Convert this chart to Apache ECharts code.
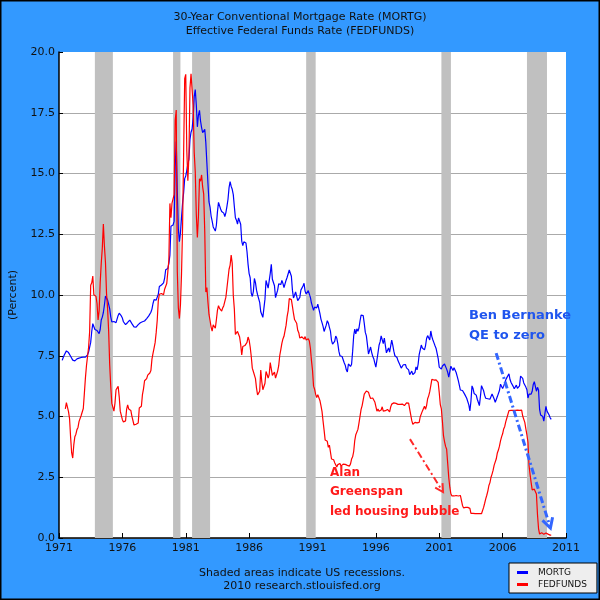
<!DOCTYPE html>
<html>
<head>
<meta charset="utf-8">
<script src="https://cdn.jsdelivr.net/npm/echarts@6/dist/echarts.min.js"></script>
<style>
html,body{margin:0;padding:0;background:#3399ff;}
#chart{width:600px;height:600px;}
</style>
</head>
<body>
<div id="chart"></div>
<script>
// ---- DATA ----
// 30-Year Conventional Mortgage Rate, monthly, starting 1971-04
const mortgStart = [1971, 4];
const mortgValues = [
  7.31,7.43,7.53,7.60,7.70,7.69,7.63,7.55,7.48,
  7.44,7.32,7.29,7.29,7.37,7.37,7.40,7.40,7.42,7.43,7.44,7.44,
  7.44,7.44,7.46,7.54,7.65,7.73,8.05,8.50,8.82,8.77,8.58,8.54,
  8.54,8.46,8.41,8.58,8.97,9.09,9.28,9.59,9.96,9.98,9.79,9.62,
  9.43,9.10,8.89,8.82,8.91,8.89,8.86,8.94,9.16,9.25,9.20,9.14,
  9.05,8.90,8.86,8.78,8.83,8.87,8.93,8.97,8.92,8.82,8.75,8.69,
  8.64,8.68,8.73,8.78,8.86,8.86,8.88,8.90,8.87,8.93,8.97,9.03,
  9.09,9.14,9.21,9.29,9.42,9.65,9.81,9.78,9.79,9.85,10.03,10.35,
  10.39,10.41,10.43,10.50,10.69,11.04,11.09,11.09,11.30,11.64,12.83,12.90,
  12.88,13.04,15.28,16.32,14.26,12.71,12.19,12.56,13.20,13.79,14.21,14.79,
  14.90,15.13,15.40,15.58,16.40,16.70,16.83,17.29,18.16,18.45,17.83,16.92,
  17.40,17.60,17.16,16.89,16.68,16.70,16.82,16.27,15.43,14.61,13.83,13.62,
  13.25,13.04,12.80,12.78,12.63,12.87,13.42,13.81,13.73,13.54,13.44,13.42,
  13.37,13.23,13.39,13.65,13.94,14.42,14.67,14.47,14.35,14.13,13.64,13.18,
  13.08,12.92,13.17,13.20,12.91,12.22,12.03,12.19,12.19,12.14,11.78,11.26,
  10.88,10.71,10.08,9.94,10.14,10.68,10.51,10.20,10.01,9.98,9.70,9.31,
  9.20,9.08,9.04,9.83,10.60,10.54,10.28,10.33,10.89,11.26,10.65,10.64,
  10.38,9.89,9.93,10.20,10.46,10.46,10.43,10.60,10.48,10.30,10.27,10.61,
  10.73,10.65,11.03,11.05,10.77,10.20,9.88,9.99,10.13,9.95,9.77,9.74,
  9.90,10.20,10.27,10.37,10.48,10.16,10.04,10.10,10.18,10.18,9.90,9.67,
  9.64,9.37,9.50,9.49,9.47,9.62,9.58,9.24,9.01,8.86,8.71,8.50,
  8.43,8.76,8.94,8.85,8.67,8.51,8.13,7.98,7.92,8.09,8.31,8.22,
  7.99,7.68,7.50,7.47,7.47,7.42,7.21,7.11,6.92,6.83,7.16,7.17,
  7.06,7.15,7.68,8.32,8.60,8.40,8.61,8.51,8.64,8.93,9.17,9.20,
  9.15,8.83,8.46,8.32,7.96,7.57,7.61,7.86,7.64,7.48,7.38,7.20,
  7.03,7.08,7.62,7.93,8.07,8.32,8.25,8.00,8.23,7.92,7.62,7.60,
  7.82,7.65,7.90,8.14,7.94,7.69,7.50,7.48,7.43,7.29,7.21,7.10,
  6.99,7.04,7.13,7.14,7.14,7.00,6.95,6.92,6.72,6.71,6.87,6.72,
  6.79,6.81,7.04,6.92,7.15,7.55,7.63,7.94,7.82,7.85,7.74,7.91,
  8.21,8.33,8.24,8.15,8.52,8.29,8.15,8.03,7.91,7.80,7.75,7.38,
  7.03,7.05,6.95,7.08,7.15,7.16,7.13,6.95,6.82,6.62,6.66,7.07,
  7.00,6.89,7.01,6.99,6.81,6.65,6.49,6.29,6.09,6.11,6.07,6.05,
  5.92,5.84,5.75,5.81,5.48,5.23,5.63,6.26,6.15,5.95,5.93,5.88,
  5.71,5.64,5.45,5.83,6.27,6.29,6.06,5.87,5.75,5.72,5.73,5.75,
  5.71,5.63,5.93,5.86,5.72,5.58,5.70,5.82,5.77,6.07,6.33,6.27,
  6.15,6.25,6.32,6.51,6.60,6.68,6.76,6.52,6.40,6.36,6.24,6.14,
  6.22,6.29,6.16,6.18,6.26,6.66,6.70,6.57,6.38,6.38,6.21,6.10,
  5.76,5.92,5.97,5.92,6.04,6.32,6.43,6.48,6.04,6.20,6.09,5.29,
  5.06,5.13,5.00,4.81,4.86,5.42,5.22,5.19,5.06,4.95,4.88
];
// Effective Federal Funds Rate, monthly, starting 1971-07
const fedStart = [1971, 7];
const fedValues = [
  5.31,5.57,5.55,5.20,4.91,4.14,
  3.50,3.29,3.83,4.17,4.27,4.46,4.55,4.80,4.87,5.04,5.06,5.33,
  5.94,6.58,7.09,7.12,7.84,8.49,10.40,10.50,10.78,10.01,10.03,9.95,
  9.65,8.97,9.35,10.51,11.31,11.93,12.92,12.01,11.34,10.06,9.45,8.53,
  7.13,6.24,5.54,5.49,5.22,5.55,6.10,6.14,6.24,5.82,5.22,5.20,
  4.87,4.77,4.84,4.82,5.29,5.48,5.31,5.29,5.25,5.02,4.95,4.65,
  4.61,4.68,4.69,4.73,5.35,5.39,5.42,5.90,6.14,6.47,6.51,6.56,
  6.70,6.78,6.79,6.89,7.36,7.60,7.81,8.04,8.45,8.96,9.76,10.03,
  10.07,10.06,10.09,10.01,10.24,10.29,10.47,10.94,11.43,13.77,13.18,13.78,
  13.82,14.13,17.19,17.61,10.98,9.47,9.03,9.61,10.87,12.81,15.85,18.90,
  19.08,15.93,14.70,15.72,18.52,19.10,19.04,17.82,15.87,15.08,13.31,12.37,
  13.22,14.78,14.68,14.94,14.45,14.15,12.59,10.12,10.31,9.71,9.20,8.95,
  8.68,8.51,8.77,8.80,8.63,8.98,9.37,9.56,9.45,9.48,9.34,9.47,
  9.56,9.59,9.91,10.29,10.32,11.06,11.23,11.64,11.30,9.99,9.43,8.38,
  8.35,8.50,8.58,8.27,7.97,7.53,7.88,7.90,7.92,7.99,8.05,8.27,
  8.14,7.86,7.48,6.99,6.85,6.92,6.56,6.17,5.89,5.85,6.04,6.91,
  6.43,6.10,6.13,6.37,6.85,6.73,6.58,6.73,7.22,7.29,6.69,6.77,
  6.83,6.58,6.58,6.87,7.09,7.51,7.75,8.01,8.19,8.30,8.35,8.76,
  9.12,9.36,9.85,9.84,9.81,9.53,9.24,8.99,9.02,8.84,8.55,8.45,
  8.23,8.24,8.28,8.26,8.18,8.29,8.15,8.13,8.20,8.11,7.81,7.31,
  6.91,6.25,6.12,5.91,5.78,5.90,5.82,5.66,5.45,5.21,4.81,4.43,
  4.03,4.06,3.98,3.73,3.82,3.76,3.25,3.30,3.22,3.10,3.09,2.92,
  3.02,3.03,3.07,2.96,3.00,3.04,3.06,3.03,3.09,2.99,3.02,2.96,
  3.05,3.25,3.34,3.56,4.01,4.25,4.26,4.47,4.73,4.76,5.29,5.45,
  5.53,5.92,5.98,6.05,6.01,6.00,5.85,5.74,5.80,5.76,5.80,5.60,
  5.56,5.22,5.31,5.22,5.24,5.27,5.40,5.22,5.30,5.24,5.31,5.29,
  5.25,5.19,5.39,5.51,5.50,5.56,5.52,5.54,5.54,5.50,5.52,5.50,
  5.56,5.51,5.49,5.45,5.49,5.56,5.54,5.55,5.51,5.07,4.83,4.68,
  4.63,4.76,4.81,4.74,4.74,4.76,4.99,5.07,5.22,5.20,5.42,5.30,
  5.45,5.73,5.85,6.02,6.27,6.53,6.54,6.50,6.52,6.51,6.51,6.40,
  5.98,5.49,5.31,4.80,4.21,3.97,3.77,3.65,3.07,2.49,2.09,1.82,
  1.73,1.74,1.73,1.75,1.75,1.75,1.73,1.74,1.75,1.75,1.34,1.24,
  1.24,1.26,1.25,1.26,1.26,1.22,1.01,1.03,1.01,1.01,1.00,0.98,
  1.00,1.01,1.00,1.00,1.00,1.03,1.26,1.43,1.61,1.76,1.93,2.16,
  2.28,2.50,2.63,2.79,3.00,3.04,3.26,3.50,3.62,3.78,4.00,4.16,
  4.29,4.49,4.59,4.79,4.94,4.99,5.24,5.25,5.25,5.25,5.25,5.24,
  5.25,5.26,5.26,5.25,5.25,5.25,5.26,5.02,4.94,4.76,4.49,4.24,
  3.94,2.98,2.61,2.28,1.98,2.00,2.01,2.00,1.81,0.97,0.39,0.16,
  0.15,0.22,0.18,0.15,0.18,0.21,0.16,0.16,0.15,0.12,0.12
];
// US recessions (decimal years: start, end)
const recessionStarts = [1973.83, 1980.0, 1981.5, 1990.5, 2001.17, 2007.92];
const recessionEnds   = [1975.25, 1980.58, 1982.92, 1991.25, 2001.92, 2009.5];
// Axis ticks
const xTicks = [1971, 1976, 1981, 1986, 1991, 1996, 2001, 2006, 2011];
const yTicks = [0, 2.5, 5, 7.5, 10, 12.5, 15, 17.5, 20];
const seriesNames = ['MORTG', 'FEDFUNDS'];
const titleLines = ['30-Year Conventional Mortgage Rate (MORTG)', 'Effective Federal Funds Rate (FEDFUNDS)'];
const footerLines = ['Shaded areas indicate US recessions.', '2010 research.stlouisfed.org'];
// Annotations: text lines and arrows in data coordinates [year, percent]
const greenspanText = ['Alan', 'Greenspan', 'led housing bubble'];
const bernankeText = ['Ben Bernanke', 'QE to zero'];
const greenspanArrow = [[1998.69, 4.07], [2001.30, 1.89]];
const bernankeArrow = [[2005.49, 7.61], [2009.77, 0.41]];

// ---- BUILD ----
function toPairs(start, vals) {
  return vals.map((v, i) => [start[0] + (start[1] - 1 + i) / 12, v]);
}
const FONT = 'DejaVu Sans';
const chart = echarts.init(document.getElementById('chart'), null, {renderer: 'canvas'});

const recessionAreas = recessionStarts.map((s, i) => [{xAxis: s}, {xAxis: recessionEnds[i]}]);

const option = {
  backgroundColor: '#3399ff',
  animation: false,
  title: {
    text: titleLines.join('\n'),
    left: 'center',
    top: 5,
    textStyle: {fontFamily: FONT, fontSize: 11, fontWeight: 'normal', color: '#111', lineHeight: 14}
  },
  grid: {left: 59, right: 34, top: 52, bottom: 62, show: true, backgroundColor: '#ffffff', borderWidth: 0,
         containLabel: false, outerBoundsMode: 'none'},
  xAxis: {
    type: 'value', min: xTicks[0], max: xTicks[xTicks.length - 1], interval: 5,
    axisLine: {show: true, lineStyle: {color: '#000', width: 1.5}},
    axisTick: {show: true, inside: true, length: 5, lineStyle: {color: '#000'}},
    axisLabel: {fontFamily: FONT, fontSize: 11, color: '#111', margin: 5, formatter: v => String(v)},
    splitLine: {show: false}
  },
  yAxis: {
    type: 'value', min: yTicks[0], max: yTicks[yTicks.length - 1], interval: 2.5,
    name: '(Percent)', nameLocation: 'middle', nameGap: 40, nameRotate: 90,
    nameTextStyle: {fontFamily: FONT, fontSize: 11, color: '#111'},
    axisLine: {show: true, lineStyle: {color: '#000', width: 1.5}},
    axisTick: {show: true, inside: true, length: 4, lineStyle: {color: '#000'}},
    axisLabel: {fontFamily: FONT, fontSize: 11, color: '#111', margin: 4, formatter: v => v.toFixed(1)},
    splitLine: {show: true, showMaxLine: false, lineStyle: {color: '#aaaaaa', width: 1}}
  },
  legend: {
    orient: 'vertical', left: 509, top: 563,
    padding: [5, 10, 4, 8], itemGap: 3,
    backgroundColor: '#eeeeee', borderColor: '#000', borderWidth: 1,
    icon: 'rect', itemWidth: 11, itemHeight: 3,
    textStyle: {fontFamily: FONT, fontSize: 9, color: '#111', padding: [0, 0, 0, 5]},
    data: seriesNames
  },
  series: [
    {
      name: 'recessions', type: 'line', data: [], z: 1, silent: true,
      markArea: {silent: true, itemStyle: {color: '#c0c0c0', opacity: 1}, data: recessionAreas}
    },
    {
      name: seriesNames[0], type: 'line', z: 3, showSymbol: false, symbol: 'none',
      lineStyle: {color: '#0000ff', width: 1.2}, itemStyle: {color: '#0000ff'},
      data: toPairs(mortgStart, mortgValues)
    },
    {
      name: seriesNames[1], type: 'line', z: 4, showSymbol: false, symbol: 'none',
      lineStyle: {color: '#ff0000', width: 1.2}, itemStyle: {color: '#ff0000'},
      data: toPairs(fedStart, fedValues)
    }
  ]
};
chart.setOption(option);

function arrowGraphics(id, pts, color, width, head) {
  const a = chart.convertToPixel({gridIndex: 0}, pts[0]);
  const b = chart.convertToPixel({gridIndex: 0}, pts[1]);
  const ang = Math.atan2(b[1] - a[1], b[0] - a[0]);
  const h1 = [b[0] - head * Math.cos(ang - 0.5), b[1] - head * Math.sin(ang - 0.5)];
  const h2 = [b[0] - head * Math.cos(ang + 0.5), b[1] - head * Math.sin(ang + 0.5)];
  return [
    {type: 'line', id: id + '_l', z: 100, shape: {x1: a[0], y1: a[1], x2: b[0], y2: b[1]},
     style: {stroke: color, lineWidth: width, lineDash: [7, 3, 2, 3]}},
    {type: 'polyline', id: id + '_h', z: 100, shape: {points: [h1, b, h2]},
     style: {stroke: color, lineWidth: width, fill: null}}
  ];
}
function textLines(id, lines, x, y0, dy, color, size) {
  return lines.map((t, i) => ({
    type: 'text', id: id + i, z: 100, left: x, top: y0 + i * dy - size * 0.6,
    style: {text: t, fill: color, fontFamily: FONT, fontWeight: 'bold', fontSize: size}
  }));
}
const graphics = [
  {type: 'rect', id: 'border', z: 200, silent: true, shape: {x: 0.5, y: 0.5, width: 599, height: 599},
   style: {fill: null, stroke: '#000', lineWidth: 2}},
  ...footerLines.map((t, i) => ({
    type: 'text', id: 'foot' + i, z: 100, x: 302, y: 573 + i * 13,
    style: {text: t, fill: '#111', fontFamily: FONT, fontSize: 11, textAlign: 'center', textVerticalAlign: 'middle'}
  })),
  ...textLines('gs', greenspanText, 330, 474, 19.5, '#ff1a1a', 12),
  ...textLines('bb', bernankeText, 469, 317, 20, '#1f55ee', 13),
  ...arrowGraphics('ra', greenspanArrow, '#ff2a2a', 2, 9),
  ...arrowGraphics('ba', bernankeArrow, '#3366ff', 3, 11)
];
chart.setOption({graphic: graphics});
</script>
</body>
</html>
